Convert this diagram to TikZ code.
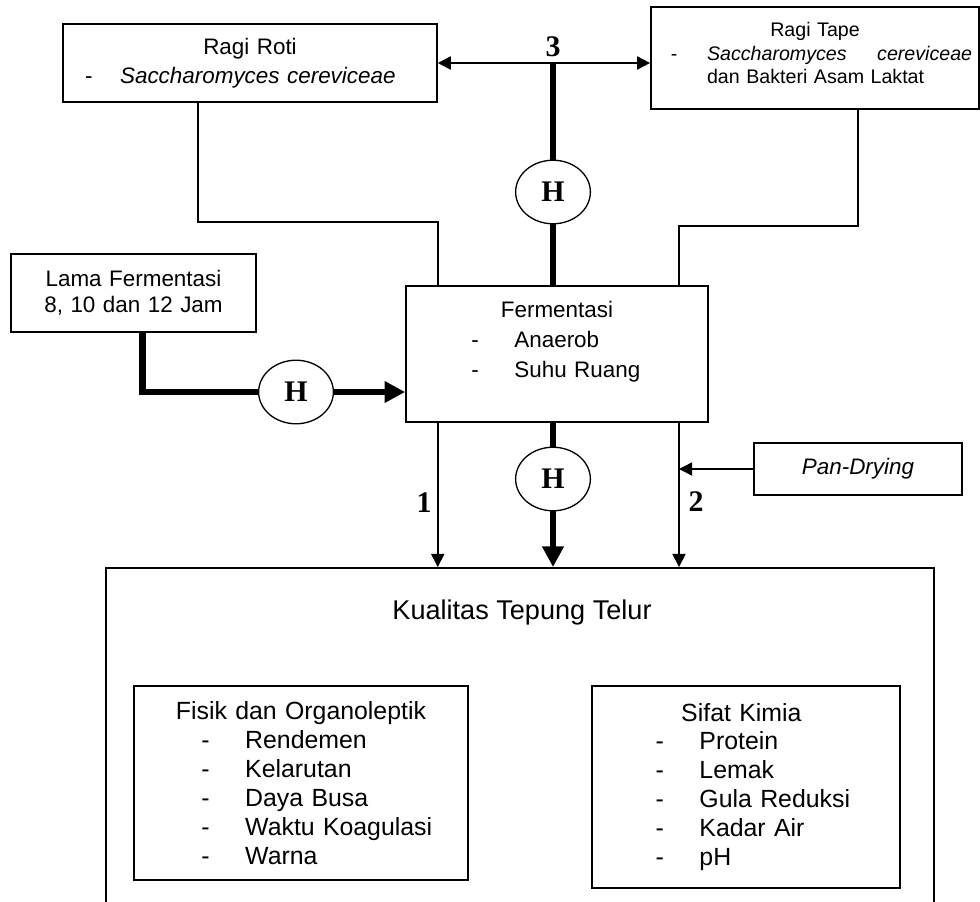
\documentclass[tikz,border=0pt]{standalone}
\usepackage{fontspec}
\setmainfont{Liberation Sans}
\newfontfamily\numfont{Liberation Serif}
\usetikzlibrary{arrows.meta, positioning, shapes.geometric}

\newcommand{\dashrow}[3]{\hspace*{#1}\makebox[#2][l]{-}#3}

\begin{document}
\begin{tikzpicture}[
    x=0.535pt, y=-0.535pt,
    box/.style={rectangle, draw, line width=0.9pt, inner sep=0pt, font=\fontsize{12}{15.5}\selectfont},
    hnode/.style={ellipse, draw, line width=0.7pt, fill=white, minimum width=40pt, minimum height=34pt, inner sep=0pt, font=\numfont\bfseries\fontsize{16}{16}\selectfont},
    num/.style={font=\numfont\bfseries\fontsize{16}{16}\selectfont},
    line/.style={line width=0.9pt},
    arrow/.style={line width=0.9pt, -{Triangle[length=7pt,width=7pt]}},
    both/.style={line width=0.9pt, {Triangle[length=7pt,width=7pt]}-{Triangle[length=7pt,width=7pt]}},
    heavy/.style={line width=3.7pt},
    heavyarrow/.style={line width=3.7pt, -{Triangle[length=11pt,width=11pt]}}
]
\useasboundingbox (0,0) rectangle (980,901);
\clip (0,0) rectangle (980,901);

\node[box, minimum width=200pt, minimum height=41.7pt, text width=200pt, align=left] (a) at (250,63)
    {\makebox[200pt][c]{Ragi Roti}\\ \dashrow{11.8pt}{18.7pt}{\textit{Saccharomyces cereviceae}}};
\node[box, minimum width=175.5pt, minimum height=54.6pt, text width=175.5pt, align=left,
      font=\fontsize{10.5}{12.6}\selectfont] (b) at (815,58)
    {\makebox[175.5pt][c]{Ragi Tape}\\
     \dashrow{10.7pt}{19.3pt}{\makebox[141.8pt][s]{\textit{Saccharomyces}\hfill\textit{cereviceae}}}\\
     \hspace*{30pt}dan Bakteri Asam Laktat\rule[-5.4pt]{0pt}{5.4pt}};
\node[box, minimum width=131pt, minimum height=41.7pt, text width=131pt, align=center,
      font=\fontsize{12}{14}\selectfont] (c) at (133.5,293)
    {Lama Fermentasi\\8, 10 dan 12 Jam};
\node[box, minimum width=161.6pt, minimum height=72.8pt, text width=161.6pt, align=left,
      font=\fontsize{12}{16}\selectfont] (d) at (557,354)
    {\makebox[161.6pt][c]{Fermentasi}\\ \dashrow{35pt}{23pt}{Anaerob}\\ \dashrow{35pt}{23pt}{Suhu Ruang}\\ \mbox{}};
\node[box, minimum width=111.3pt, minimum height=27.8pt] (e) at (858,469) {\textit{Pan-Drying}};

\node[box, minimum width=443pt, minimum height=225pt, anchor=north] (f) at (520,567) {};
\node[font=\fontsize{14.5}{17}\selectfont] (t) at (522,612) {Kualitas Tepung Telur};
\node[box, minimum width=178.7pt, minimum height=103.8pt, text width=178.7pt, align=left,
      font=\fontsize{13.3}{15.5}\selectfont] (g) at (301,783)
    {\makebox[178.7pt][c]{Fisik dan Organoleptik}\\
     \dashrow{36pt}{23.5pt}{Rendemen}\\
     \dashrow{36pt}{23.5pt}{Kelarutan}\\
     \dashrow{36pt}{23.5pt}{Daya Busa}\\
     \dashrow{36pt}{23.5pt}{Waktu Koagulasi}\\
     \dashrow{36pt}{23.5pt}{Warna}};
\node[box, minimum width=164.8pt, minimum height=108pt, text width=164.8pt, align=left,
      font=\fontsize{13.3}{15.5}\selectfont] (i) at (746,787)
    {\makebox[164.8pt][c]{Sifat Kimia\hspace{5pt}}\\
     \dashrow{34pt}{23.5pt}{Protein}\\
     \dashrow{34pt}{23.5pt}{Lemak}\\
     \dashrow{34pt}{23.5pt}{Gula Reduksi}\\
     \dashrow{34pt}{23.5pt}{Kadar Air}\\
     \dashrow{34pt}{23.5pt}{pH}};

\node[hnode] (h1) at (553,192) {H};
\node[hnode] (h2) at (553,479) {H};
\node[hnode] (h3) at (296,392) {H};

\node[num] (n3) at (553,47) {3};
\node[num] (n1) at (424,503) {1};
\node[num] (n2) at (696,502) {2};

\coordinate (k1) at (a.east |- f.north);
\coordinate (k2) at (679,567);

% inputs to fermentation
\draw[both] (a.east) -- (a.east -| b.west);
\draw[heavy] (h1 |- a.east) -- (h1);
\draw[heavy] (h1) -- (d.north -| h1);
\draw[line] ([xshift=-27.8pt]a.south) -- ++(0,119) -| (d.north -| k1);
\draw[line] ([xshift=23pt]b.south) -- ++(0,116) -| (d.north -| k2);
\draw[heavy] ([xshift=5pt]c.south) |- (h3);
\draw[heavyarrow] (h3) -- (h3 -| d.west);

% outputs to quality
\draw[arrow] (d.south -| k1) -- (k1);
\draw[arrow] (d.south -| k2) -- (k2);
\draw[heavy] (d.south -| h2) -- (h2);
\draw[heavyarrow] (h2) -- (h2 |- f.north);
\draw[arrow] (e.west) -- (e.west -| k2);
\end{tikzpicture}
\end{document}
